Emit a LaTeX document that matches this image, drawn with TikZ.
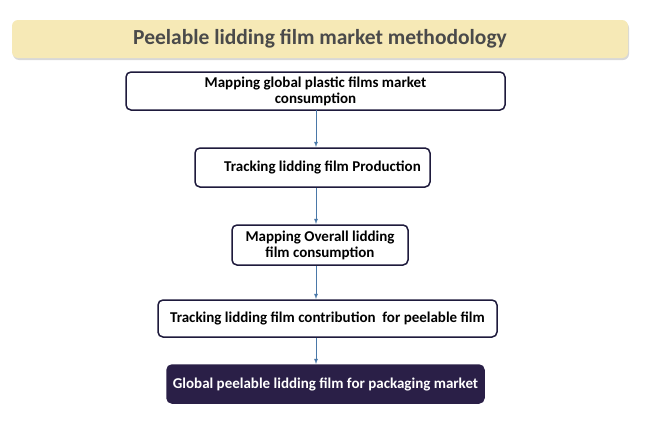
\documentclass[tikz,border=0pt]{standalone}
\usepackage{fontspec}
\setmainfont{Carlito}
\usetikzlibrary{shadows}
\definecolor{titlefill}{HTML}{F6E9B6}
\definecolor{titletext}{HTML}{4A4A4A}
\definecolor{boxline}{HTML}{1E1A3C}
\definecolor{darkfill}{HTML}{2A1F47}
\definecolor{arrowc}{HTML}{4A78A8}
\begin{document}
\begin{tikzpicture}[x=1pt,y=-1pt,
  stepbox/.style={draw=boxline,line width=1.5pt,rounded corners=5pt,fill=white,font=\bfseries\fontsize{15}{16}\selectfont,align=center,inner sep=0pt},
  darkbox/.style={stepbox,fill=darkfill,text=white,draw=darkfill},
  arr/.style={draw=arrowc,line width=0.8pt,-latex}]
\useasboundingbox (0,0) rectangle (650,423);
\fill[white] (0,0) rectangle (650,423);
\node[fill=titlefill,rounded corners=6pt,drop shadow={shadow xshift=1pt,shadow yshift=-2pt,opacity=0.3},minimum width=616pt,minimum height=38pt,inner sep=0pt,text=titletext,font=\bfseries\fontsize{21.5}{23}\selectfont] (title) at (320,39) {Peelable lidding film market methodology};
\node[stepbox,minimum width=379pt,minimum height=38pt] (a) at (315.5,91) {Mapping global plastic films market\\ consumption};
\node[stepbox,minimum width=235pt,minimum height=39pt] (b) at (312.5,167.5) {\hspace*{20pt}Tracking lidding film Production};
\node[stepbox,minimum width=176pt,minimum height=40pt] (c) at (320,245) {Mapping Overall lidding\\ film consumption};
\node[stepbox,minimum width=339pt,minimum height=37pt] (d) at (327.5,318.5) {Tracking lidding film contribution\ \ for peelable film};
\node[darkbox,minimum width=317pt,minimum height=38pt] (e) at (325.5,384) {Global peelable lidding film for packaging market};
\draw[arr] (316,110) -- (316,147);
\draw[arr] (316,188) -- (316,224);
\draw[arr] (316,266) -- (316,299);
\draw[arr] (316,338) -- (316,364);
\end{tikzpicture}
\end{document}
